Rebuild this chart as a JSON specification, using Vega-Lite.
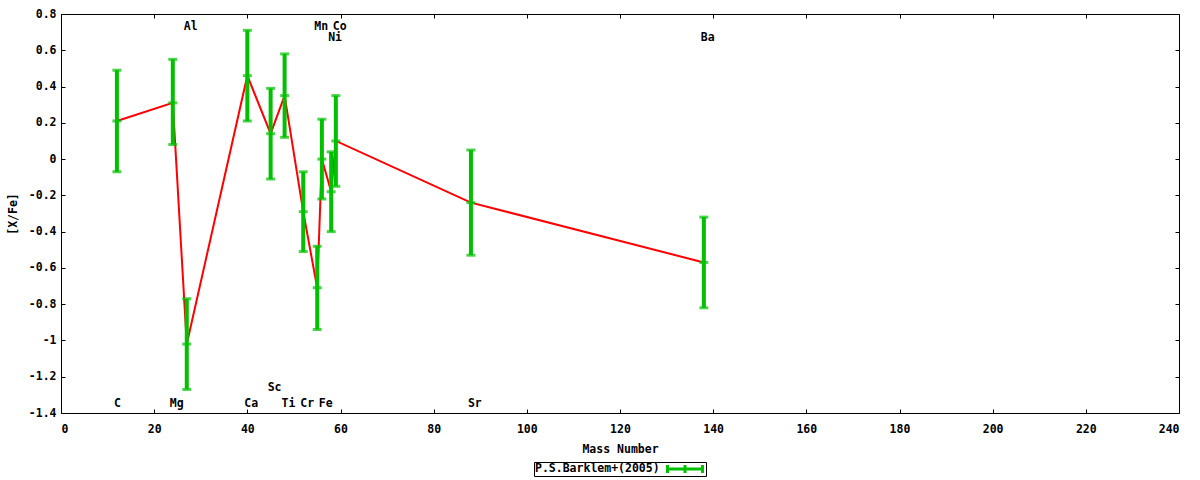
{
  "$schema": "https://vega.github.io/schema/vega-lite/v6.json",
  "autosize": {"type": "none"},
  "padding": {"left": 61, "top": 14, "right": 21, "bottom": 67},
  "width": 1118,
  "height": 399,
  "background": "white",
  "config": {
    "view": {"stroke": "#000000", "strokeWidth": 1},
    "font": "DejaVu Sans Mono",
    "axis": {
      "labelFont": "DejaVu Sans Mono", "labelFontWeight": "bold", "labelFontSize": 11.5, "labelColor": "#000000",
      "titleFont": "DejaVu Sans Mono", "titleFontWeight": "bold", "titleFontSize": 11.5, "titleColor": "#000000",
      "domain": false, "grid": false, "tickColor": "#000000", "tickSize": -4, "tickWidth": 1
    }
  },
  "data": {
    "values": [
      {"element": "C", "mass": 12, "value": 0.21, "lo": -0.07, "hi": 0.49, "ly": -1.35, "source": "P.S.Barklem+(2005)"},
      {"element": "Mg", "mass": 24, "value": 0.31, "lo": 0.08, "hi": 0.55, "ly": -1.35, "source": "P.S.Barklem+(2005)"},
      {"element": "Al", "mass": 27, "value": -1.02, "lo": -1.27, "hi": -0.77, "ly": 0.73, "source": "P.S.Barklem+(2005)"},
      {"element": "Ca", "mass": 40, "value": 0.46, "lo": 0.21, "hi": 0.71, "ly": -1.35, "source": "P.S.Barklem+(2005)"},
      {"element": "Sc", "mass": 45, "value": 0.14, "lo": -0.11, "hi": 0.39, "ly": -1.26, "source": "P.S.Barklem+(2005)"},
      {"element": "Ti", "mass": 48, "value": 0.35, "lo": 0.12, "hi": 0.58, "ly": -1.35, "source": "P.S.Barklem+(2005)"},
      {"element": "Cr", "mass": 52, "value": -0.29, "lo": -0.51, "hi": -0.07, "ly": -1.35, "source": "P.S.Barklem+(2005)"},
      {"element": "Mn", "mass": 55, "value": -0.71, "lo": -0.94, "hi": -0.48, "ly": 0.73, "source": "P.S.Barklem+(2005)"},
      {"element": "Fe", "mass": 56, "value": 0.0, "lo": -0.22, "hi": 0.22, "ly": -1.35, "source": "P.S.Barklem+(2005)"},
      {"element": "Ni", "mass": 58, "value": -0.18, "lo": -0.40, "hi": 0.04, "ly": 0.67, "source": "P.S.Barklem+(2005)"},
      {"element": "Co", "mass": 59, "value": 0.10, "lo": -0.15, "hi": 0.35, "ly": 0.73, "source": "P.S.Barklem+(2005)"},
      {"element": "Sr", "mass": 88, "value": -0.24, "lo": -0.53, "hi": 0.05, "ly": -1.35, "source": "P.S.Barklem+(2005)"},
      {"element": "Ba", "mass": 138, "value": -0.57, "lo": -0.82, "hi": -0.32, "ly": 0.67, "source": "P.S.Barklem+(2005)"}
    ]
  },
  "layer": [
    {
      "mark": {"type": "line", "color": "#ff0000", "strokeWidth": 2},
      "encoding": {
        "x": {"field": "mass", "type": "quantitative", "scale": {"domain": [0, 240], "nice": false, "zero": false},
              "axis": {"title": "Mass Number", "values": [0,20,40,60,80,100,120,140,160,180,200,220,240], "labelPadding": 14, "titlePadding": 9, "orient": "bottom"}},
        "y": {"field": "value", "type": "quantitative", "scale": {"domain": [-1.4, 0.8], "nice": false, "zero": false},
              "axis": {"title": "[X/Fe]", "values": [-1.4,-1.2,-1,-0.8,-0.6,-0.4,-0.2,0,0.2,0.4,0.6,0.8], "labelExpr": "'' + datum.value", "labelPadding": 9, "titlePadding": 10, "orient": "left"}}
      }
    },
    {
      "mark": {"type": "rule", "strokeWidth": 4},
      "encoding": {
        "x": {"field": "mass", "type": "quantitative", "axis": {"orient": "top", "labels": false, "title": null, "values": [0,20,40,60,80,100,120,140,160,180,200,220,240]}},
        "y": {"field": "lo", "type": "quantitative", "axis": {"orient": "right", "labels": false, "title": null, "values": [-1.4,-1.2,-1,-0.8,-0.6,-0.4,-0.2,0,0.2,0.4,0.6,0.8]}},
        "y2": {"field": "hi"},
        "color": {"field": "source", "type": "nominal", "scale": {"range": ["#00c000"]},
          "legend": {
            "orient": "none", "legendX": 473, "legendY": 448,
            "title": "P.S.Barklem+(2005)", "titleOrient": "left", "titleBaseline": "middle", "titleLineHeight": 12,
            "titleFont": "DejaVu Sans Mono", "titleFontWeight": "bold", "titleFontSize": 11.5, "titleColor": "#000000",
            "titlePadding": 6,
            "labelExpr": "''", "labelOffset": 13, "labelFontSize": 4,
            "symbolType": "M-3.5,0H3.5M-3.5,-0.8V0.8M3.5,-0.8V0.8M0,-0.8V0.8",
            "symbolSize": 100, "symbolOffset": 12.5, "symbolStrokeWidth": 3, "symbolFillColor": "transparent",
            "clipHeight": 12,
            "strokeColor": "#000000", "padding": 1, "rowPadding": 0
          }}
      }
    },
    {
      "transform": [{"fold": ["lo", "hi", "value"], "as": ["kind", "yv"]}],
      "mark": {"type": "tick", "orient": "horizontal", "color": "#00c000", "size": 9, "thickness": 3},
      "encoding": {
        "x": {"field": "mass", "type": "quantitative", "axis": null},
        "y": {"field": "yv", "type": "quantitative", "axis": null}
      }
    },
    {
      "mark": {"type": "text", "align": "left", "baseline": "middle", "dx": -3, "font": "DejaVu Sans Mono", "fontWeight": "bold", "fontSize": 11.5, "color": "#000000"},
      "encoding": {
        "x": {"field": "mass", "type": "quantitative", "axis": null},
        "y": {"field": "ly", "type": "quantitative", "axis": null},
        "text": {"field": "element"}
      }
    }
  ],
  "resolve": {"axis": {"x": "independent", "y": "independent"}}
}
